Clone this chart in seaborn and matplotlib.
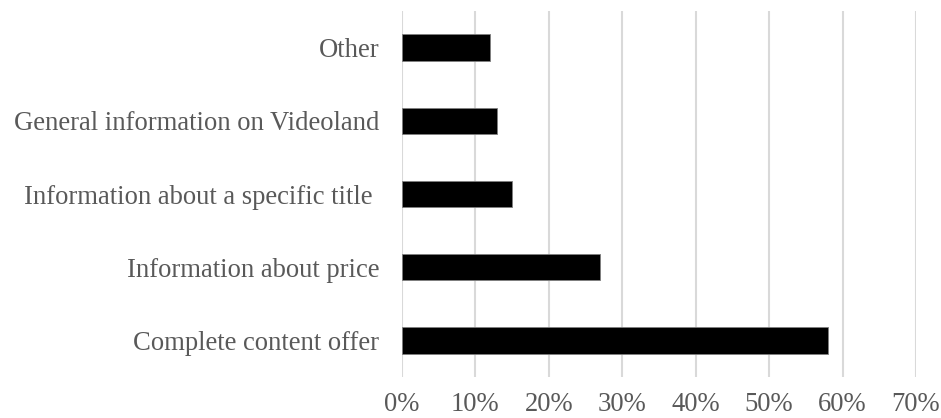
import matplotlib
matplotlib.use('Agg')
import matplotlib.pyplot as plt
import seaborn as sns
import pandas as pd
from matplotlib.ticker import PercentFormatter

categories = ['Other', 'General information on Videoland',
              'Information about a specific title ', 'Information about price',
              'Complete content offer']
values = [0.12, 0.13, 0.15, 0.27, 0.58]
xticks = [0, 0.1, 0.2, 0.3, 0.4, 0.5, 0.6, 0.7]

df = pd.DataFrame({'category': categories, 'value': values})

sns.set_style('white')
plt.rcParams['font.family'] = ['Liberation Serif', 'DejaVu Serif']

fig = plt.figure(figsize=(9.41, 4.18), dpi=100)
ax = fig.add_axes([0.4272, 0.098, 0.5462, 0.8756])

sns.barplot(data=df, x='value', y='category', color='black', width=0.36,
            edgecolor='#7f7f7f', linewidth=0.6, ax=ax, zorder=3)

ax.set_xlim(0, 0.7)
ax.set_xticks(xticks)
ax.xaxis.set_major_formatter(PercentFormatter(1.0, decimals=0))
ax.grid(axis='x', color='#d9d9d9', linewidth=1.5, zorder=0)
ax.grid(axis='y', visible=False)
for s in ax.spines.values():
    s.set_visible(False)
ax.tick_params(axis='both', length=0, labelsize=19.2, labelcolor='#595959')
ax.tick_params(axis='x', pad=11)
ax.tick_params(axis='y', pad=16.5)
ax.set_xlabel('')
ax.set_ylabel('')

fig.savefig('out.png', dpi=100)
